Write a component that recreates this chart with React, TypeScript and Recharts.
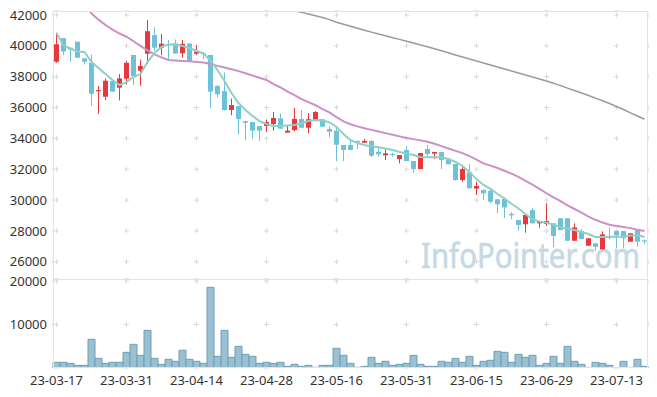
import React from "react";
import { ComposedChart, Bar, Line, XAxis, YAxis, CartesianGrid } from "recharts";

const dates = [
  "23-03-17", "23-03-20", "23-03-21", "23-03-22", "23-03-23", "23-03-24", "23-03-27", "23-03-28", "23-03-29", "23-03-30",
  "23-03-31", "23-04-03", "23-04-04", "23-04-05", "23-04-06", "23-04-07", "23-04-10", "23-04-11", "23-04-12", "23-04-13",
  "23-04-14", "23-04-17", "23-04-18", "23-04-19", "23-04-20", "23-04-21", "23-04-24", "23-04-25", "23-04-26", "23-04-27",
  "23-04-28", "23-05-02", "23-05-03", "23-05-04", "23-05-08", "23-05-09", "23-05-10", "23-05-11", "23-05-12", "23-05-15",
  "23-05-16", "23-05-17", "23-05-18", "23-05-19", "23-05-22", "23-05-23", "23-05-24", "23-05-25", "23-05-26", "23-05-30",
  "23-05-31", "23-06-01", "23-06-02", "23-06-05", "23-06-07", "23-06-08", "23-06-09", "23-06-12", "23-06-13", "23-06-14",
  "23-06-15", "23-06-16", "23-06-19", "23-06-20", "23-06-21", "23-06-22", "23-06-23", "23-06-26", "23-06-27", "23-06-28",
  "23-06-29", "23-06-30", "23-07-03", "23-07-04", "23-07-05", "23-07-06", "23-07-07", "23-07-10", "23-07-11", "23-07-12",
  "23-07-13", "23-07-14", "23-07-17", "23-07-18", "23-07-19",
];

const openP = [
  38970, 40500, 39880, 40270, 39190, 38900, 37050, 36700, 37720, 37290,
  37870, 39410, 38390, 39490, 40700, 39880, 40120, 40150, 39520, 40150,
  39490, 39520, 39410, 37400, 37060, 35840, 36100, 35120, 35060, 34800,
  34800, 34930, 35300, 34370, 34540, 35260, 34690, 35190, 35240, 34610,
  34500, 33570, 33570, 33830, 33720, 33830, 33130, 32900, 32990, 32660,
  33250, 32530, 32010, 33310, 33010, 33120, 32640, 32340, 31300, 31790,
  30740, 30650, 30600, 30050, 30070, 29100, 28710, 28430, 29350, 28490,
  28450, 28490, 28820, 28820, 27360, 27990, 27040, 27190, 26800, 27600,
  27990, 27990, 27300, 28100, 27380,
];
const highP = [
  40850, 40500, 39880, 40270, 39200, 39420, 37400, 37870, 37850, 38170,
  39010, 39410, 39110, 41680, 41200, 40770, 40380, 40410, 40380, 40150,
  40020, 39620, 39410, 37450, 38270, 36580, 36100, 35120, 35060, 34800,
  35220, 35710, 35610, 34800, 35970, 35840, 35640, 35770, 35240, 34780,
  34670, 33570, 33890, 33860, 33960, 33900, 33390, 33290, 33070, 32920,
  33520, 32530, 33050, 33570, 33120, 33120, 32700, 32340, 32160, 32320,
  31190, 30700, 30700, 30050, 30200, 29220, 28710, 29030, 29490, 28640,
  29790, 28490, 28820, 28820, 28490, 28120, 27520, 27190, 27970, 28210,
  27990, 27990, 27840, 28100, 27450,
];
const lowP = [
  38900, 39400, 38970, 39230, 38790, 36100, 35580, 36490, 37030, 36460,
  37490, 37460, 37420, 38820, 39680, 39410, 39080, 39500, 39240, 39020,
  39410, 39150, 35950, 36650, 35800, 35500, 34250, 33890, 33960, 33830,
  34410, 34510, 34630, 34370, 34450, 34690, 34330, 35190, 34760, 34060,
  32510, 32530, 33250, 33310, 33720, 32790, 32810, 32600, 32810, 32380,
  32530, 31750, 32010, 32810, 32660, 32010, 32320, 31250, 31190, 30760,
  30330, 30000, 29790, 29160, 28840, 28750, 28010, 27880, 28490, 28210,
  28320, 26940, 28050, 27360, 27360, 27470, 27040, 26710, 26800, 27450,
  26870, 26870, 27300, 26970, 27150,
];
const closeP = [
  40100, 39640, 39750, 39230, 38970, 36890, 37130, 37740, 37030, 37890,
  38900, 38040, 38690, 40950, 39880, 40140, 40050, 39500, 40130, 39020,
  39620, 39470, 37030, 36860, 35840, 36160, 35250, 35010, 34500, 34500,
  35060, 35320, 34630, 34500, 35260, 34690, 35240, 35710, 34760, 34430,
  33590, 33250, 33250, 33740, 33830, 32870, 32960, 33030, 32920, 32920,
  32530, 32010, 33050, 32990, 33120, 32600, 32320, 31300, 32010, 30760,
  30910, 30440, 29890, 29720, 29520, 29010, 28380, 29030, 28490, 28640,
  28640, 27670, 28050, 27360, 28230, 27470, 27520, 26970, 27770, 27540,
  27710, 27520, 27840, 27300, 27310,
];

const volume = [
  1310, 1310, 1070, 610, 610, 6590, 2220, 1070, 1310, 1310,
  3600, 5440, 2910, 8660, 2220, 840, 2000, 1540, 4070, 2000,
  1540, 1070, 18550, 2690, 8660, 2450, 4980, 3140, 2690, 1070,
  1310, 1070, 1310, 380, 840, 380, 610, 150, 610, 610,
  4530, 2910, 1070, 150, 380, 2450, 1070, 1540, 610, 840,
  1070, 2910, 840, 380, 380, 1540, 1310, 2220, 1310, 2690,
  610, 1540, 1770, 3830, 3600, 1310, 3140, 2450, 2910, 610,
  1070, 2690, 1070, 4980, 1540, 840, 150, 1310, 1070, 610,
  50, 1540, 150, 2000, 380,
];

const ma5 = [
  40830, 40030, 39830, 39630, 39600, 38950, 38560, 38170, 37780, 37460,
  37650, 37980, 38170, 38950, 39540, 39930, 40090, 40100, 39990, 39860,
  39670, 39520, 39050, 38430, 37720, 36940, 36290, 35840, 35450, 35120,
  34930, 34800, 34800, 34830, 34870, 34960, 35120, 35190, 35170, 35030,
  34740, 34280, 33890, 33700, 33570, 33470, 33420, 33340, 33250, 33120,
  33020, 32920, 32790, 32770, 32770, 32770, 32660, 32470, 32210, 31820,
  31360, 30980, 30720, 30390, 30100, 29760, 29450, 29100, 28740, 28610,
  28530, 28410, 28230, 28150, 28060, 27930, 27800, 27600, 27600, 27620,
  27620, 27620, 27700, 27700, 27620,
];
const ma20 = [
  null, null, null, null, 42800, 42100, 41700, 41350, 41050, 40800,
  40590, 40300, 40000, 39700, 39450, 39250, 39080, 39050, 39020, 39000,
  38960, 38920, 38820, 38700, 38600, 38480, 38360, 38220, 38080, 37930,
  37790, 37520, 37300, 37030, 36800, 36550, 36350, 36150, 35900, 35680,
  35380, 35100, 34920, 34780, 34660, 34550, 34440, 34340, 34240, 34130,
  34030, 33950, 33870, 33780, 33650, 33500, 33340, 33190, 33040, 32850,
  32620, 32380, 32230, 32080, 31900, 31710, 31500, 31250, 31000, 30720,
  30440, 30180, 29930, 29650, 29420, 29180, 28930, 28720, 28540, 28400,
  28320, 28250, 28180, 28070, 27990,
];
const ma60 = [
  null, null, null, null, null, null, null, null, null, null,
  null, null, null, null, null, null, null, null, null, null,
  null, null, null, null, null, null, null, null, null, null,
  null, null, null, 42400, 42280, 42170, 42060, 41950, 41840, 41700,
  41530, 41400, 41270, 41140, 41010, 40890, 40770, 40650, 40530, 40420,
  40300, 40180, 40060, 39940, 39810, 39680, 39550, 39410, 39280, 39150,
  39020, 38890, 38760, 38630, 38500, 38370, 38240, 38110, 37980, 37850,
  37720, 37570, 37420, 37260, 37100, 36940, 36780, 36610, 36440, 36260,
  36070, 35870, 35650, 35450, 35240,
];

const priceTicks = [26000, 28000, 30000, 32000, 34000, 36000, 38000, 40000, 42000];
const volumeTicks = [10000, 20000];
const dateTicks = ["23-03-17", "23-03-31", "23-04-14", "23-04-28", "23-05-16", "23-05-31", "23-06-15", "23-06-29", "23-07-13"];

const priceDomain: [number, number] = [24880, 42260];
const volumeDomain: [number, number] = [0, 20460];

const rows = dates.map((d, i) => ({
  date: d,
  open: openP[i],
  high: highP[i],
  low: lowP[i],
  close: closeP[i],
  volume: volume[i],
  ma5: ma5[i],
  ma20: ma20[i],
  ma60: ma60[i],
}));

const W = 657;
const LEFT = 53;
const RIGHT = 9;
const PRICE_TOP = 11;
const PRICE_H = 279;
const VOL_H = 118;
const VOL_PAD = 10; // volume svg starts a little higher so its top label is not cut
const VOL_AXIS_H = 29;
const plotW = W - LEFT - RIGHT;
const band = plotW / dates.length;

const UP = "#e8373d";
const DOWN = "#6cc3d9";
const GRID = "#d9d9d9";
const BORDER = "#e3e3e3";
const tickStyle = { fill: "#333", fontSize: 13, fontFamily: "'Noto Sans', sans-serif" };

// dash pattern that leaves a short stroke around each grid crossing ("+" marks)
function plusDash(centers: number[], length: number, arm = 2.5) {
  const parts: number[] = [0];
  let pos = 0;
  centers.forEach((c) => {
    const s = Math.max(pos, c - arm);
    const e = Math.min(length, c + arm);
    parts.push(s - pos, e - s);
    pos = e;
  });
  parts.push(length - pos + 1000);
  return parts.map((v) => v.toFixed(2)).join(" ");
}

const hDash = plusDash(
  dateTicks.map((t) => dates.indexOf(t) * band + band / 2),
  plotW
);
const yCenters = (ticks: number[], dom: [number, number], h: number) =>
  ticks.map((t) => ((dom[1] - t) * h) / (dom[1] - dom[0])).sort((a, b) => a - b);
const priceVDash = plusDash(yCenters(priceTicks, priceDomain, PRICE_H - PRICE_TOP), PRICE_H - PRICE_TOP);
const volVDash = plusDash(yCenters(volumeTicks, volumeDomain, VOL_H - VOL_AXIS_H), VOL_H - VOL_AXIS_H);

const Candle = (props: any) => {
  const { x, y, width, height, payload } = props;
  if (!payload) return null;
  const { open, close, high, low } = payload;
  const top = Math.min(y, y + height);
  const h = Math.abs(height);
  const k = high > low ? h / (high - low) : 0;
  const toY = (v: number) => top + (high - v) * k;
  const cx = Math.floor(x + width / 2) + 0.5;
  const color = close >= open ? UP : DOWN;
  const bTop = toY(Math.max(open, close));
  const bH = Math.max(1, toY(Math.min(open, close)) - bTop);
  return (
    <g>
      <line x1={cx} x2={cx} y1={top} y2={top + h} stroke={color} strokeWidth={1} />
      <rect x={cx - 2.5} y={bTop} width={5} height={bH} fill={color} />
    </g>
  );
};

export default function App() {
  const abs = (top: number): React.CSSProperties => ({ position: "absolute", left: 0, top });
  return (
    <div style={{ position: "relative", width: W, height: PRICE_H + VOL_H }}>
      <style>{`body{margin:0}`}</style>
      <svg width={W} height={PRICE_H} style={abs(0)}>
        <text
          x={421}
          y={268}
          fontSize={34}
          fontFamily="'Noto Sans', sans-serif"
          fill="#c5d9e5"
          stroke="#c5d9e5"
          strokeWidth={0.6}
          textLength={219}
          lengthAdjust="spacingAndGlyphs"
        >
          InfoPointer.com
        </text>
      </svg>
      <div style={abs(0)}>
        <ComposedChart
          width={W}
          height={PRICE_H}
          data={rows}
          margin={{ top: PRICE_TOP, right: RIGHT, bottom: 0, left: 0 }}
        >
          <CartesianGrid horizontal={true} vertical={false} stroke={GRID} strokeDasharray={hDash} />
          <CartesianGrid horizontal={false} vertical={true} stroke={GRID} strokeDasharray={priceVDash} />
          <XAxis dataKey="date" ticks={dateTicks} interval={0} hide />
          <YAxis
            width={LEFT}
            domain={priceDomain}
            ticks={priceTicks}
            allowDataOverflow
            tickLine={false}
            axisLine={false}
            tickMargin={0}
            tick={tickStyle}
          />
          <Bar
            dataKey={(d: any) => [d.low, d.high]}
            shape={Candle}
            isAnimationActive={false}
          />
          <Line dataKey="ma60" stroke="#9a9a9a" strokeWidth={1.5} dot={false} activeDot={false} isAnimationActive={false} />
          <Line dataKey="ma20" stroke="#cc90c9" strokeWidth={2} dot={false} activeDot={false} isAnimationActive={false} />
          <Line dataKey="ma5" stroke="#90cfc5" strokeWidth={2} dot={false} activeDot={false} isAnimationActive={false} />
        </ComposedChart>
      </div>
      <div style={abs(PRICE_H - VOL_PAD)}>
        <ComposedChart
          width={W}
          height={VOL_H + VOL_PAD}
          data={rows}
          margin={{ top: VOL_PAD, right: RIGHT, bottom: 0, left: 0 }}
          barCategoryGap={0}
        >
          <CartesianGrid horizontal={true} vertical={false} stroke={GRID} strokeDasharray={hDash} />
          <CartesianGrid horizontal={false} vertical={true} stroke={GRID} strokeDasharray={volVDash} />
          <XAxis
            dataKey="date"
            ticks={dateTicks}
            interval={0}
            height={VOL_AXIS_H}
            tickLine={false}
            axisLine={false}
            tick={tickStyle}
          />
          <YAxis
            width={LEFT}
            domain={volumeDomain}
            ticks={volumeTicks}
            allowDataOverflow
            tickLine={false}
            axisLine={false}
            tickMargin={0}
            tick={tickStyle}
          />
          <Bar dataKey="volume" fill="#9ac0d1" stroke="#6f9fb6" strokeWidth={1} isAnimationActive={false} />
        </ComposedChart>
      </div>
      {/* panel frames */}
      <svg width={W} height={PRICE_H + VOL_H} style={{ ...abs(0), pointerEvents: "none" }}>
        <rect x={LEFT + 0.5} y={PRICE_TOP + 0.5} width={plotW - 1} height={PRICE_H - PRICE_TOP} fill="none" stroke={BORDER} />
        <rect x={LEFT + 0.5} y={PRICE_H + 0.5} width={plotW - 1} height={VOL_H - VOL_AXIS_H - 1} fill="none" stroke={BORDER} />
      </svg>
    </div>
  );
}
